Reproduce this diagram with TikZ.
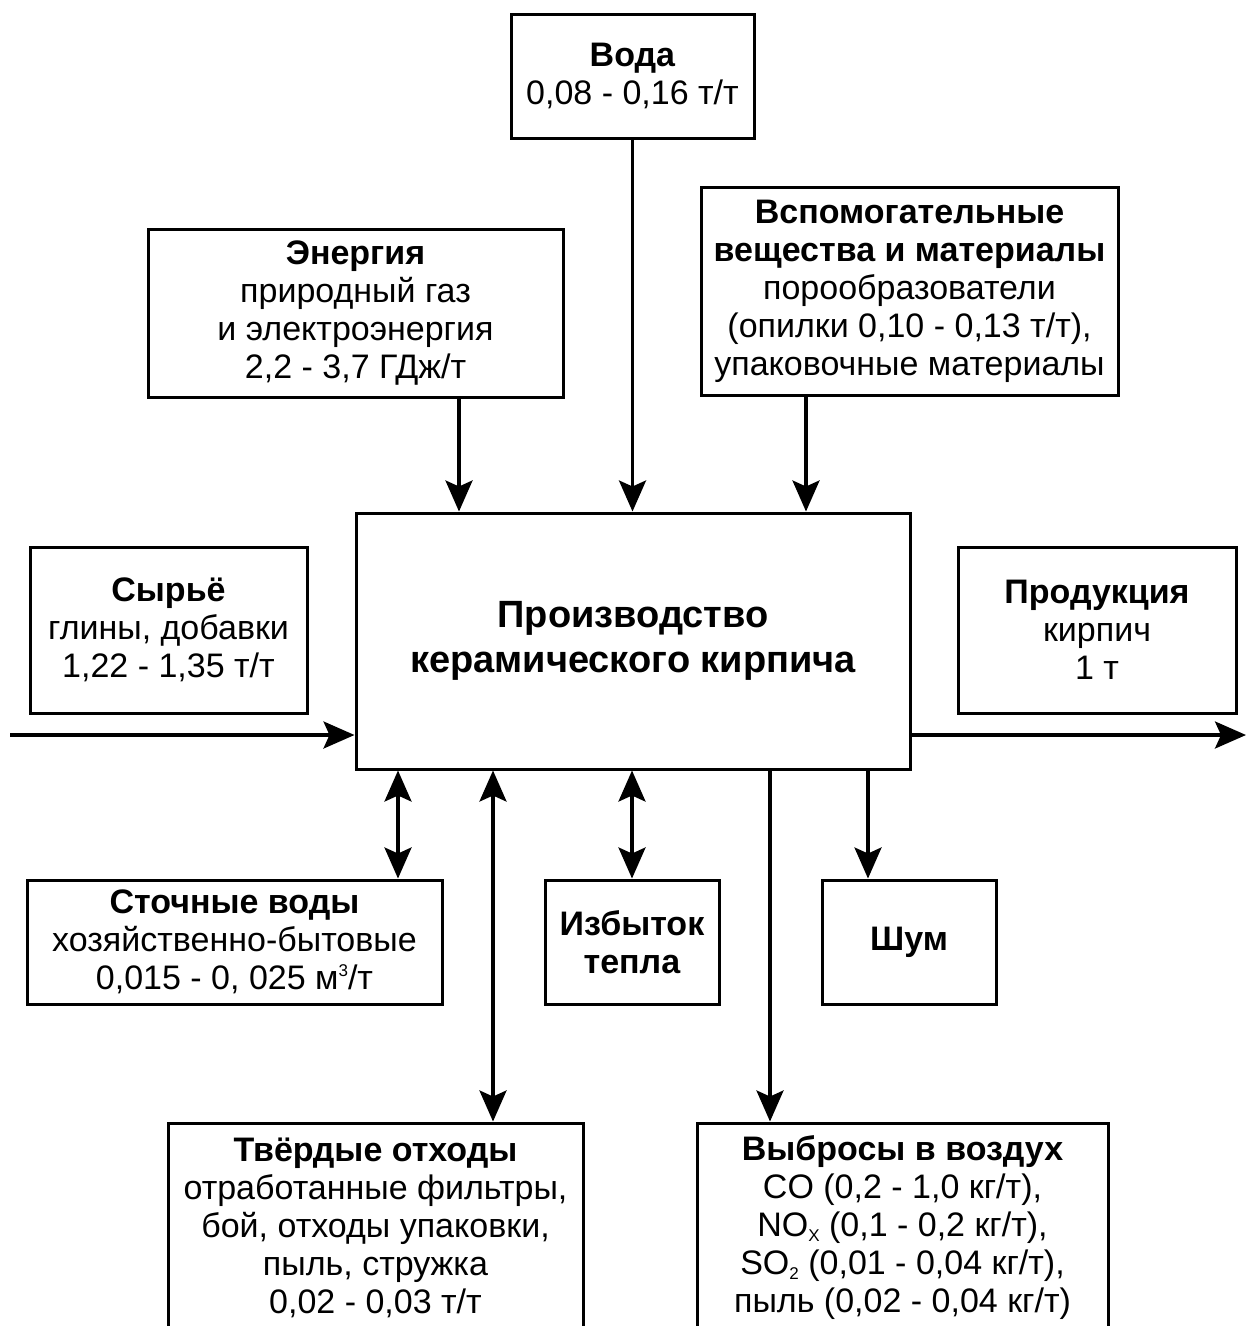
\documentclass[tikz,border=0pt]{standalone}
\usepackage{fontspec}
\setmainfont{Liberation Sans}
\usetikzlibrary{arrows.meta}
\newcommand{\mysub}[1]{\raisebox{-5pt}{\fontsize{17}{17}\selectfont #1}}
\newcommand{\mysup}[1]{\raisebox{13pt}{\fontsize{17}{17}\selectfont #1}}
\begin{document}
\begin{tikzpicture}[x=1pt,y=-1pt,
  box/.style={draw,line width=3pt,align=center,inner sep=0pt,
    font=\fontsize{34}{38}\selectfont},
  tip/.tip={Stealth[length=31pt,width=27pt,inset=6pt]},
  flow/.style={line width=3.2pt,-tip},
  both/.style={line width=3.2pt,tip-tip}]
\path[use as bounding box,clip] (0,0) rectangle (1246,1326);
\fill[white] (0,0) rectangle (1246,1326);
% boxes
\node[box,minimum width=243pt,minimum height=124pt] (voda) at (632.5,76)
  {\textbf{Вода}\\0,08 - 0,16 т/т};
\node[box,minimum width=415pt,minimum height=168pt] (energy) at (355.5,313)
  {\textbf{Энергия}\\природный газ\\и электроэнергия\\2,2 - 3,7 ГДж/т};
\node[box,minimum width=417pt,minimum height=208pt] (aux) at (909.5,291)
  {\textbf{Вспомогательные}\\\textbf{вещества и материалы}\\порообразователи\\(опилки 0,10 - 0,13 т/т),\\упаковочные материалы};
\node[box,minimum width=554pt,minimum height=256pt,font=\fontsize{38}{45}\selectfont\bfseries] (main) at (633,641)
  {Производство\\керамического кирпича};
\node[box,minimum width=277pt,minimum height=166pt] (raw) at (168.5,630)
  {\textbf{Сырьё}\\глины, добавки\\1,22 - 1,35 т/т};
\node[box,minimum width=278pt,minimum height=166pt] (prod) at (1097,630)
  {\textbf{Продукция}\\кирпич\\1 т};
\node[box,minimum width=415pt,minimum height=124pt] (waste) at (234.5,942)
  {\textbf{Сточные воды}\\хозяйственно-бытовые\\0,015 - 0, 025 м\mysup{3}/т};
\node[box,minimum width=174pt,minimum height=124pt] (heat) at (632,942)
  {\textbf{Избыток}\\\textbf{тепла}};
\node[box,minimum width=174pt,minimum height=124pt] (noise) at (909,942)
  {\textbf{Шум}};
\node[box,minimum width=415pt,minimum height=210pt] (solid) at (375.5,1228)
  {\textbf{Твёрдые отходы}\\отработанные фильтры,\\бой, отходы упаковки,\\пыль, стружка\\0,02 - 0,03 т/т};
\node[box,minimum width=411pt,minimum height=210pt] (air) at (902.5,1228)
  {\textbf{Выбросы в воздух}\\CO (0,2 - 1,0 кг/т),\\NO\mysub{X} (0,1 - 0,2 кг/т),\\SO\mysub{2} (0,01 - 0,04 кг/т),\\пыль (0,02 - 0,04 кг/т)};
% free ends
\coordinate (in) at (10,735);
\coordinate (out) at (1246,735);
% connectors
\draw[flow] (voda.south) -- (voda.south |- main.north);
\draw[flow] ([xshift=103.5pt]energy.south) -- ([xshift=103.5pt]energy.south |- main.north);
\draw[flow] ([xshift=-103.5pt]aux.south) -- ([xshift=-103.5pt]aux.south |- main.north);
\draw[flow] (in) -- (in -| main.west);
\draw[flow] (out -| main.east) -- (out);
\draw[both] ([xshift=163.5pt]waste.north |- main.south) -- ([xshift=163.5pt]waste.north);
\draw[both] ([xshift=117.5pt]solid.north |- main.south) -- ([xshift=117.5pt]solid.north);
\draw[both] (heat.north |- main.south) -- (heat.north);
\draw[flow] ([xshift=-132.5pt]air.north |- main.south) -- ([xshift=-132.5pt]air.north);
\draw[flow] ([xshift=-41pt]noise.north |- main.south) -- ([xshift=-41pt]noise.north);
\end{tikzpicture}
\end{document}
